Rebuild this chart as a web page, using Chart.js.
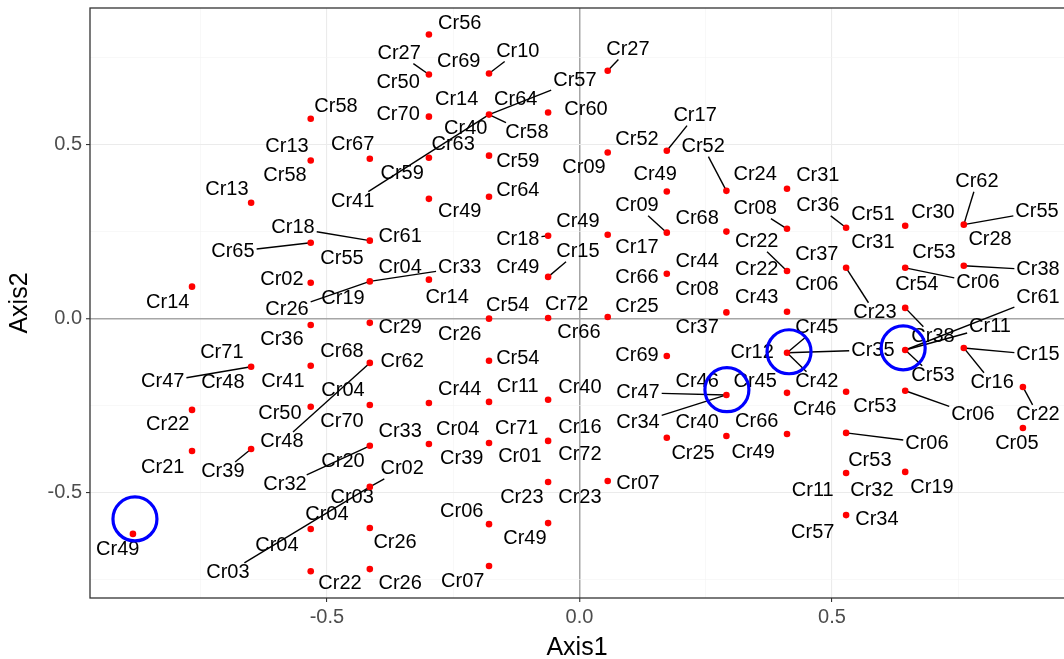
<!DOCTYPE html>
<html lang="en">
<head>
<meta charset="UTF-8" />
<title>Axis1 / Axis2</title>
<script src="https://cdn.jsdelivr.net/npm/chart.js"></script>
<style>
  body { margin: 0; background: #fff; }
  #wrap { width: 1064px; height: 659px; position: relative; }
</style>
</head>
<body>
<div id="wrap"><canvas id="chart"></canvas></div>
<script>
  // point coordinates (Axis1, Axis2)
  const pointX = [
    -0.884,
    -0.767, -0.767, -0.767,
    -0.650, -0.650, -0.650,
    -0.532, -0.532, -0.532, -0.532, -0.532, -0.532, -0.532, -0.532, -0.532,
    -0.415, -0.415, -0.415, -0.415, -0.415, -0.415, -0.415, -0.415, -0.415, -0.415,
    -0.298, -0.298, -0.298, -0.298, -0.298, -0.298, -0.298, -0.298,
    -0.179, -0.179, -0.179, -0.179, -0.179, -0.179, -0.179, -0.179, -0.179, -0.179,
    -0.062, -0.062, -0.062, -0.062, -0.062, -0.062, -0.062, -0.062,
    0.056, 0.056, 0.056, 0.056, 0.056,
    0.173, 0.173, 0.173, 0.173, 0.173, 0.173,
    0.291, 0.291, 0.291, 0.291, 0.291,
    0.411, 0.411, 0.411, 0.411, 0.411, 0.411, 0.411,
    0.528, 0.528, 0.528, 0.528, 0.528, 0.528,
    0.645, 0.645, 0.645, 0.645, 0.645, 0.645,
    0.761, 0.761, 0.761,
    0.878, 0.878
  ];
  const pointY = [
    -0.619,
    0.091, -0.263, -0.381,
    0.332, -0.139, -0.375,
    0.573, 0.453, 0.217, 0.102, -0.019, -0.136, -0.254, -0.605, -0.726,
    0.458, 0.223, 0.106, -0.013, -0.128, -0.249, -0.366, -0.484, -0.602, -0.720,
    0.815, 0.700, 0.579, 0.461, 0.343, 0.111, -0.243, -0.361,
    0.703, 0.585, 0.467, 0.349, -0.001, -0.122, -0.240, -0.358, -0.591, -0.711,
    0.591, 0.237, 0.119, 0.001, -0.234, -0.352, -0.470, -0.588,
    0.711, 0.476, 0.240, 0.004, -0.467,
    0.481, 0.364, 0.246, 0.128, -0.108, -0.343,
    0.366, 0.249, 0.017, -0.220, -0.338,
    0.372, 0.257, 0.136, 0.019, -0.099, -0.214, -0.332,
    0.260, 0.145, -0.211, -0.329, -0.444, -0.565,
    0.266, 0.145, 0.030, -0.091, -0.208, -0.441,
    0.269, 0.151, -0.085,
    -0.197, -0.315
  ];

  // text labels: [text, x, y, index of point it points to (-1 = no segment)]
  const labels = [
    ["Cr56", -0.237, 0.846, -1], ["Cr27", -0.357, 0.760, 27], ["Cr69", -0.239, 0.737, -1],
    ["Cr10", -0.122, 0.766, 34], ["Cr50", -0.359, 0.677, -1], ["Cr14", -0.243, 0.628, -1],
    ["Cr64", -0.126, 0.628, -1], ["Cr70", -0.359, 0.585, -1], ["Cr40", -0.225, 0.545, -1],
    ["Cr58", -0.104, 0.533, 35], ["Cr57", -0.009, 0.682, 35], ["Cr60", 0.013, 0.599, -1],
    ["Cr58", -0.482, 0.608, -1], ["Cr13", -0.579, 0.493, -1], ["Cr58", -0.583, 0.409, -1],
    ["Cr13", -0.698, 0.369, -1], ["Cr67", -0.449, 0.499, -1], ["Cr63", -0.250, 0.499, -1],
    ["Cr59", -0.122, 0.450, -1], ["Cr59", -0.351, 0.415, -1], ["Cr64", -0.122, 0.366, -1],
    ["Cr41", -0.449, 0.335, 35], ["Cr49", -0.237, 0.306, -1], ["Cr27", 0.096, 0.772, 52],
    ["Cr17", 0.229, 0.582, 57], ["Cr52", 0.114, 0.513, -1], ["Cr52", 0.245, 0.493, 63],
    ["Cr09", 0.009, 0.432, -1], ["Cr49", 0.150, 0.412, -1], ["Cr24", 0.348, 0.412, -1],
    ["Cr31", 0.472, 0.409, -1], ["Cr09", 0.114, 0.323, 59], ["Cr08", 0.348, 0.315, 69],
    ["Cr36", 0.472, 0.323, 75], ["Cr62", 0.787, 0.392, 87], ["Cr51", 0.581, 0.297, -1],
    ["Cr30", 0.700, 0.303, -1], ["Cr55", 0.906, 0.306, 87], ["Cr18", -0.567, 0.260, 17],
    ["Cr65", -0.686, 0.191, 9], ["Cr61", -0.355, 0.234, -1], ["Cr55", -0.470, 0.171, -1],
    ["Cr02", -0.589, 0.111, -1], ["Cr04", -0.355, 0.145, -1], ["Cr33", -0.237, 0.145, 18],
    ["Cr14", -0.815, 0.045, -1], ["Cr26", -0.579, 0.024, 18], ["Cr19", -0.468, 0.056, -1],
    ["Cr14", -0.262, 0.059, -1], ["Cr54", -0.142, 0.036, -1], ["Cr72", -0.025, 0.039, -1],
    ["Cr49", -0.003, 0.277, -1], ["Cr18", -0.122, 0.226, 45], ["Cr15", -0.003, 0.191, 46],
    ["Cr49", -0.122, 0.145, -1], ["Cr36", -0.589, -0.062, -1], ["Cr29", -0.355, -0.027, -1],
    ["Cr26", -0.237, -0.047, -1], ["Cr66", -0.001, -0.042, -1], ["Cr68", -0.470, -0.096, -1],
    ["Cr62", -0.351, -0.125, -1], ["Cr54", -0.122, -0.116, -1], ["Cr71", -0.708, -0.099, -1],
    ["Cr47", -0.825, -0.182, 5], ["Cr48", -0.706, -0.185, -1], ["Cr41", -0.587, -0.180, -1],
    ["Cr04", -0.468, -0.208, -1], ["Cr44", -0.237, -0.205, -1], ["Cr11", -0.122, -0.197, -1],
    ["Cr40", 0.001, -0.200, -1], ["Cr17", 0.114, 0.203, -1], ["Cr68", 0.233, 0.286, -1],
    ["Cr44", 0.233, 0.162, -1], ["Cr22", 0.351, 0.220, 70], ["Cr66", 0.114, 0.116, -1],
    ["Cr22", 0.351, 0.139, -1], ["Cr08", 0.233, 0.082, -1], ["Cr43", 0.351, 0.059, -1],
    ["Cr25", 0.114, 0.033, -1], ["Cr37", 0.233, -0.027, -1], ["Cr69", 0.114, -0.108, -1],
    ["Cr12", 0.342, -0.099, -1], ["Cr46", 0.233, -0.182, -1], ["Cr45", 0.348, -0.182, -1],
    ["Cr47", 0.116, -0.214, 66], ["Cr37", 0.470, 0.182, -1], ["Cr06", 0.470, 0.096, -1],
    ["Cr45", 0.470, -0.027, 72], ["Cr42", 0.470, -0.182, 72], ["Cr31", 0.581, 0.217, -1],
    ["Cr28", 0.813, 0.226, -1], ["Cr53", 0.702, 0.188, -1], ["Cr38", 0.908, 0.139, 88],
    ["Cr54", 0.668, 0.096, -1], ["Cr06", 0.789, 0.102, 82], ["Cr61", 0.908, 0.059, 84],
    ["Cr23", 0.585, 0.016, 76], ["Cr11", 0.813, -0.024, 84], ["Cr38", 0.700, -0.053, 83],
    ["Cr35", 0.581, -0.091, 72], ["Cr15", 0.908, -0.105, 89], ["Cr53", 0.700, -0.165, 84],
    ["Cr16", 0.817, -0.185, 89], ["Cr53", 0.585, -0.254, -1], ["Cr46", 0.466, -0.263, -1],
    ["Cr06", 0.779, -0.277, 85], ["Cr22", 0.908, -0.277, 90], ["Cr06", 0.688, -0.358, 78],
    ["Cr05", 0.866, -0.358, -1], ["Cr53", 0.575, -0.407, -1], ["Cr32", 0.579, -0.493, -1],
    ["Cr19", 0.698, -0.487, -1], ["Cr11", 0.462, -0.493, -1], ["Cr34", 0.589, -0.579, -1],
    ["Cr57", 0.462, -0.614, -1], ["Cr50", -0.593, -0.272, -1], ["Cr22", -0.815, -0.306, -1],
    ["Cr48", -0.589, -0.355, 20], ["Cr21", -0.825, -0.427, -1], ["Cr39", -0.706, -0.441, 6],
    ["Cr32", -0.583, -0.478, 22], ["Cr04", -0.500, -0.562, -1], ["Cr04", -0.599, -0.651, -1],
    ["Cr49", -0.914, -0.665, -1], ["Cr03", -0.696, -0.731, 23], ["Cr70", -0.470, -0.297, -1],
    ["Cr33", -0.355, -0.326, -1], ["Cr04", -0.241, -0.320, -1], ["Cr71", -0.124, -0.315, -1],
    ["Cr16", 0.001, -0.312, -1], ["Cr20", -0.468, -0.412, -1], ["Cr39", -0.233, -0.401, -1],
    ["Cr01", -0.118, -0.398, -1], ["Cr72", 0.001, -0.392, -1], ["Cr02", -0.351, -0.432, 23],
    ["Cr03", -0.450, -0.513, -1], ["Cr23", -0.114, -0.513, -1], ["Cr23", 0.001, -0.513, -1],
    ["Cr06", -0.233, -0.556, -1], ["Cr26", -0.365, -0.645, -1], ["Cr49", -0.108, -0.631, -1],
    ["Cr22", -0.474, -0.760, -1], ["Cr26", -0.355, -0.760, -1], ["Cr07", -0.231, -0.757, -1],
    ["Cr34", 0.116, -0.300, 66], ["Cr40", 0.233, -0.300, -1], ["Cr66", 0.351, -0.297, -1],
    ["Cr25", 0.225, -0.389, -1], ["Cr49", 0.344, -0.384, -1], ["Cr07", 0.116, -0.473, -1]
  ];

  // highlighted points (blue rings)
  const circleX = [-0.880, 0.292, 0.415, 0.641];
  const circleY = [-0.576, -0.205, -0.096, -0.085];

  const xTicks = [-0.75, -0.5, -0.25, 0, 0.25, 0.5, 0.75];
  const yTicks = [-0.75, -0.5, -0.25, 0, 0.25, 0.5, 0.75];

  const FONT = '"Liberation Sans", Arial, sans-serif';
  const isMajor = v => Math.abs(v * 2 - Math.round(v * 2)) < 1e-9;

  const gridColor = c => c.tick.value === 0 ? '#a6a6a6' : (isMajor(c.tick.value) ? '#ebebeb' : '#f3f3f3');
  const gridWidth = c => c.tick.value === 0 ? 1.5 : (isMajor(c.tick.value) ? 1.1 : 0.6);
  const tickColor = c => isMajor(c.tick.value) ? '#333333' : 'rgba(0,0,0,0)';

  // ggrepel-style labels with leader segments
  const repelLabels = {
    id: 'repelLabels',
    beforeDatasetsDraw(chart) {
      const { ctx, scales: { x, y } } = chart;
      ctx.save();
      ctx.font = '20px ' + FONT;
      ctx.strokeStyle = '#000';
      ctx.lineWidth = 1.4;
      labels.forEach(([txt, lx, ly, p]) => {
        if (p < 0) return;
        const cx = x.getPixelForValue(lx), cy = y.getPixelForValue(ly);
        const px = x.getPixelForValue(pointX[p]), py = y.getPixelForValue(pointY[p]);
        const hw = ctx.measureText(txt).width / 2 + 2, hh = 10;
        const dx = px - cx, dy = py - cy;
        const t = Math.min(dx ? hw / Math.abs(dx) : Infinity, dy ? hh / Math.abs(dy) : Infinity);
        if (t >= 1) return;
        ctx.beginPath();
        ctx.moveTo(cx + dx * t, cy + dy * t);
        ctx.lineTo(px, py);
        ctx.stroke();
      });
      ctx.fillStyle = '#000';
      ctx.textAlign = 'center';
      ctx.textBaseline = 'middle';
      labels.forEach(([txt, lx, ly]) => {
        ctx.fillText(txt, x.getPixelForValue(lx), y.getPixelForValue(ly));
      });
      ctx.restore();
    }
  };

  // theme_bw panel border
  const panelBorder = {
    id: 'panelBorder',
    afterDraw(chart) {
      const { ctx, chartArea: a } = chart;
      ctx.save();
      ctx.strokeStyle = '#333333';
      ctx.lineWidth = 1.3;
      ctx.strokeRect(a.left, a.top, a.right - a.left + 2, a.bottom - a.top);
      ctx.restore();
    }
  };

  new Chart(document.getElementById('chart'), {
    type: 'scatter',
    data: {
      datasets: [
        {
          data: circleX.map((v, i) => ({ x: v, y: circleY[i] })),
          pointRadius: 22,
          borderWidth: 3.2,
          borderColor: '#0000ff',
          backgroundColor: 'rgba(0,0,0,0)'
        },
        {
          data: pointX.map((v, i) => ({ x: v, y: pointY[i] })),
          pointRadius: 3.3,
          borderWidth: 0,
          backgroundColor: '#ff0000'
        }
      ]
    },
    options: {
      responsive: true,
      maintainAspectRatio: false,
      animation: false,
      layout: { autoPadding: false, padding: { top: 8, right: 0, bottom: 0, left: 0 } },
      plugins: { legend: { display: false }, tooltip: { enabled: false } },
      scales: {
        x: {
          type: 'linear',
          min: -0.969,
          max: 0.9594,
          afterBuildTicks: s => { s.ticks = xTicks.map(v => ({ value: v })); },
          afterFit: s => { s.height = 61; s.paddingLeft = 0; s.paddingRight = 0; },
          grid: { color: gridColor, lineWidth: gridWidth, tickColor: tickColor, tickLength: 4, tickWidth: 1.1 },
          border: { display: false },
          ticks: {
            autoSkip: false, maxRotation: 0, padding: 3,
            color: '#4d4d4d', font: { family: FONT, size: 20 },
            callback: v => isMajor(v) ? v.toFixed(1) : ''
          },
          title: { display: true, text: 'Axis1', color: '#000', font: { family: FONT, size: 25 }, padding: { top: 0, bottom: -4 } }
        },
        y: {
          type: 'linear',
          min: -0.803,
          max: 0.891,
          afterBuildTicks: s => { s.ticks = yTicks.map(v => ({ value: v })); },
          afterFit: s => { s.width = 90; s.paddingTop = 0; s.paddingBottom = 0; },
          grid: { color: gridColor, lineWidth: gridWidth, tickColor: tickColor, tickLength: 4, tickWidth: 1.1 },
          border: { display: false },
          ticks: {
            autoSkip: false, padding: 4,
            color: '#4d4d4d', font: { family: FONT, size: 20 },
            callback: v => isMajor(v) ? v.toFixed(1) : ''
          },
          title: { display: true, text: 'Axis2', color: '#000', font: { family: FONT, size: 25 }, padding: { top: 5, bottom: 0 } }
        }
      }
    },
    plugins: [repelLabels, panelBorder]
  });
</script>
</body>
</html>
